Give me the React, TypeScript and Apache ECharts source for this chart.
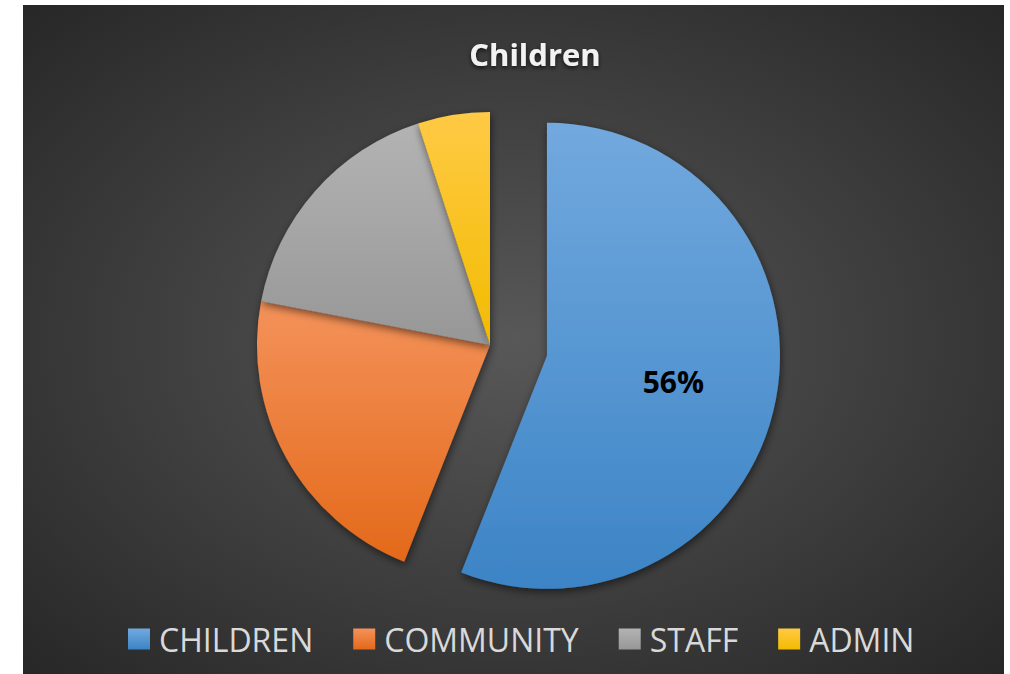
import React, { useEffect, useRef } from "react";
import * as echarts from "echarts";

const categories = ["CHILDREN", "COMMUNITY", "STAFF", "ADMIN"];
const values = [56, 22, 17, 5];
const topColors = ["#72a9de", "#f4925a", "#b3b3b3", "#ffca45"];
const bottomColors = ["#3c84c6", "#e3691a", "#979797", "#f2bb00"];

const grad = (i: number) =>
  new echarts.graphic.LinearGradient(0, 0, 0, 1, [
    { offset: 0, color: topColors[i] },
    { offset: 1, color: bottomColors[i] },
  ]);

export default function App() {
  const ref = useRef<HTMLDivElement>(null);
  useEffect(() => {
    if (!ref.current) return;
    const chart = echarts.init(ref.current, undefined, { renderer: "svg" });
    chart.setOption({
      animation: false,
      backgroundColor: "#ffffff",
      graphic: [
        {
          type: "rect",
          z: -10,
          silent: true,
          shape: { x: 23, y: 5, width: 981, height: 669 },
          style: {
            fill: new echarts.graphic.RadialGradient(0.5, 0.5, 0.72, [
              { offset: 0, color: "#585858" },
              { offset: 1, color: "#262626" },
            ]),
          },
        },
      ],
      title: {
        text: "Children",
        left: 530,
        top: 33,
        textAlign: "center",
        textStyle: {
          color: "#f2f2f2",
          fontFamily: "Open Sans",
          fontWeight: "bold",
          fontSize: 31,
          textShadowColor: "rgba(0,0,0,0.7)",
          textShadowBlur: 4,
          textShadowOffsetY: 2,
        },
      },
      legend: {
        data: categories,
        left: 123,
        top: 618,
        itemWidth: 22,
        itemHeight: 21,
        itemGap: 40,
        icon: "rect",
        textStyle: {
          color: "#d9d9d9",
          fontFamily: "Open Sans",
          fontSize: 32,
          padding: [0, 0, 0, 4],
        },
      },
      series: [
        {
          type: "pie",
          center: [490, 345],
          radius: [0, 233],
          startAngle: 90,
          clockwise: true,
          selectedMode: "single",
          selectedOffset: 58,
          avoidLabelOverlap: false,
          label: { show: false },
          labelLine: { show: false },
          labelLayout: { dx: 9, dy: 3 },
          emphasis: { disabled: true },
          itemStyle: {
            shadowBlur: 8,
            shadowColor: "rgba(0,0,0,0.55)",
            shadowOffsetX: 1,
            shadowOffsetY: 3,
          },
          data: categories.map((name, i) => ({
            name,
            value: values[i],
            selected: i === 0,
            itemStyle: { color: grad(i) },
            select: { itemStyle: { color: grad(i) } },
            label:
              i === 0
                ? {
                    show: true,
                    position: "inside",
                    formatter: "{d}%",
                    color: "#000000",
                    fontFamily: "Open Sans",
                    fontWeight: "bold",
                    fontSize: 30,
                  }
                : { show: false },
          })),
        },
      ],
    });
    return () => chart.dispose();
  }, []);
  return (
    <div
      ref={ref}
      style={{ position: "fixed", left: 0, top: 0, width: 1010, height: 674 }}
    />
  );
}
